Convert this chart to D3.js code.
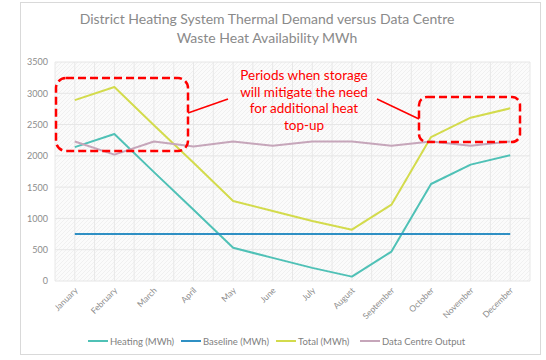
<!DOCTYPE html>
<html><head><meta charset="utf-8">
<script src="https://cdn.jsdelivr.net/npm/d3@7"></script>
<style>body{margin:0;background:#fff}svg{display:block}</style>
</head><body><svg id="c" width="546" height="360"></svg>
<script>
const months = ["January","February","March","April","May","June","July","August","September","October","November","December"];
const heating = [2140,2350,1740,1140,530,370,210,70,470,1550,1860,2010];
const baseline = [750,750,750,750,750,750,750,750,750,750,750,750];
const total = [2890,3100,2490,1890,1280,1120,960,820,1220,2300,2610,2760];
const dataCentre = [2230,2020,2230,2150,2230,2160,2230,2230,2160,2230,2160,2230];
const yTicks = [0,500,1000,1500,2000,2500,3000,3500];
const seriesNames = ["Heating (MWh)","Baseline (MWh)","Total (MWh)","Data Centre Output"];
const titleLines = ["District Heating System Thermal Demand versus Data Centre","Waste Heat Availability MWh"];
const noteLines = ["Periods when storage","will mitigate the need","for additional heat","top-up"];

const series = [
  {name: seriesNames[0], values: heating, color: "#4fc1b6"},
  {name: seriesNames[1], values: baseline, color: "#2f90c4"},
  {name: seriesNames[2], values: total, color: "#d3db4c"},
  {name: seriesNames[3], values: dataCentre, color: "#c6a6ba"}
];

const svg = d3.select("#c");
const font = "Lato, 'Open Sans', sans-serif";
const L = 55, R = 530, T = 62, B = 281;

svg.append("rect").attr("x",20.5).attr("y",2.5).attr("width",520).attr("height",352)
  .attr("fill","#fff").attr("stroke","#d9d9d9");

const defs = svg.append("defs");
const pat = defs.append("pattern").attr("id","hatch").attr("width",4).attr("height",4)
  .attr("patternUnits","userSpaceOnUse");
pat.append("rect").attr("width",4).attr("height",4).attr("fill","#fbfbfb");
pat.append("path").attr("d","M0,4 L4,0").attr("stroke","#f0f0f0").attr("stroke-width",1);

const x = d3.scalePoint().domain(months).range([L,R]).padding(0.5);
const y = d3.scaleLinear().domain([0,3500]).range([B,T]);
const step = x.step();

svg.append("rect").attr("x",L).attr("y",T).attr("width",R-L).attr("height",B-T).attr("fill","url(#hatch)");

const vg = [];
months.forEach((m,i)=>{ vg.push(x(m)-step/2); vg.push(x(m)); });
vg.push(R);
svg.append("g").selectAll("line").data(vg).join("line")
  .attr("x1",d=>d).attr("x2",d=>d).attr("y1",T).attr("y2",B)
  .attr("stroke","#e8e8e8").attr("stroke-width",1);
svg.append("g").selectAll("line").data(yTicks).join("line")
  .attr("x1",L).attr("x2",R).attr("y1",d=>y(d)).attr("y2",d=>y(d))
  .attr("stroke","#e6e6e6").attr("stroke-width",1);

const ya = svg.append("g").attr("transform",`translate(${L},0)`)
  .call(d3.axisLeft(y).tickValues(yTicks).tickFormat(d3.format("d")).tickSize(0).tickPadding(7));
ya.select(".domain").remove();
ya.selectAll("text").attr("fill","#8c8c8c").style("font-family",font).style("font-size","9px");

const xa = svg.append("g").attr("transform",`translate(0,${B})`)
  .call(d3.axisBottom(x).tickSize(0));
xa.select(".domain").remove();
xa.selectAll("text").attr("fill","#8c8c8c").style("font-family",font).style("font-size","8.5px")
  .attr("text-anchor","end").attr("dy",null).attr("y",0)
  .attr("transform","translate(3,10) rotate(-45)");

const line = d3.line().x((d,i)=>x(months[i])).y(d=>y(d));
svg.append("g").selectAll("path").data(series).join("path")
  .attr("d",d=>line(d.values)).attr("fill","none").attr("stroke",d=>d.color)
  .attr("stroke-width",2).attr("stroke-linejoin","round");

svg.append("g").selectAll("text").data(titleLines).join("text")
  .attr("x",267).attr("y",(d,i)=>24+i*19).attr("text-anchor","middle")
  .attr("fill","#8a8a8a").style("font-family",font).style("font-size","14px").text(d=>d);

const red = "#ff0000";
svg.append("rect").attr("x",56).attr("y",78).attr("width",132).attr("height",73)
  .attr("rx",10).attr("fill","none").attr("stroke",red).attr("stroke-width",2.5).attr("stroke-dasharray","8,4");
svg.append("rect").attr("x",419).attr("y",97).attr("width",101).attr("height",45)
  .attr("rx",8).attr("fill","none").attr("stroke",red).attr("stroke-width",2.5).attr("stroke-dasharray","8,4");
svg.append("line").attr("x1",188).attr("y1",113).attr("x2",228).attr("y2",99).attr("stroke",red).attr("stroke-width",1.5);
svg.append("line").attr("x1",377).attr("y1",99).attr("x2",419).attr("y2",119).attr("stroke",red).attr("stroke-width",1.5);
svg.append("g").selectAll("text").data(noteLines).join("text")
  .attr("x",304).attr("y",(d,i)=>80+i*16.5).attr("text-anchor","middle")
  .attr("fill",red).style("font-family",font).style("font-size","13.5px").text(d=>d);

const legX = [88,181,276,360];
const lg = svg.append("g").selectAll("g").data(series).join("g")
  .attr("transform",(d,i)=>`translate(${legX[i]},341)`);
lg.append("line").attr("x1",0).attr("x2",20).attr("stroke",d=>d.color).attr("stroke-width",2);
lg.append("text").attr("x",22).attr("y",3.5).attr("fill","#808080")
  .style("font-family",font).style("font-size","9.5px").text(d=>d.name);
</script></body></html>
